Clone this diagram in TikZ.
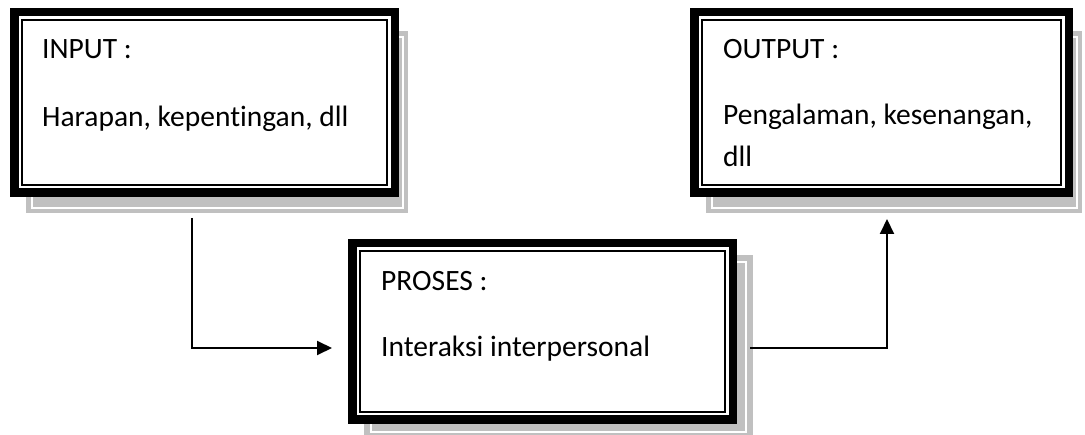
\documentclass[tikz,border=0pt]{standalone}
\usepackage{fontspec}
\setmainfont{Carlito}[Ligatures=NoCommon]
\usetikzlibrary{arrows.meta,backgrounds}

\definecolor{shade}{HTML}{C0C0C0}

\tikzset{
  % box with a heavy outer rule; the thin inner rule is added separately
  ipobox/.style={draw=black, fill=white, line width=8.5pt, inner sep=0pt},
  innerrule/.style={draw=black, line width=2.2pt},
  shadowfill/.style={fill=shade},
  shadowrule/.style={draw=white, line width=1.4pt},
  iplabel/.style={anchor=base west, inner sep=0pt, font=\fontsize{29.5}{34}\selectfont},
  link/.style={draw=black, line width=2pt, -{Triangle[length=15pt,width=14pt]}},
}

% thin rule inside a box, 12pt in from its outer edge
\newcommand{\innerframe}[1]{%
  \draw[innerrule] ([shift={(12,12)}]#1.north west) rectangle ([shift={(-12,-12)}]#1.south east);}

\begin{document}
\begin{tikzpicture}[x=1pt,y=-1pt]
\useasboundingbox (0,0) rectangle (1085,435);

% boxes
\node[ipobox, minimum width=380.5pt, minimum height=180.5pt] (inp)  at (204.5,102.5) {};
\node[ipobox, minimum width=374.5pt, minimum height=180.5pt] (outp) at (881.5,102.5) {};
\node[ipobox, minimum width=380.5pt, minimum height=176.5pt] (proc) at (542.5,331.5) {};
\innerframe{inp}
\innerframe{outp}
\innerframe{proc}

% drop shadows behind the boxes
\begin{scope}[on background layer]
  \clip (0,0) rectangle (1085,435);
  \fill[shadowfill] (26,31) rectangle (408,213);
  \draw[shadowrule] (32,37) rectangle (403,208);
  \fill[shadowfill] (706,31) rectangle (1082,213);
  \draw[shadowrule] (712,37) rectangle (1077,208);
  \fill[shadowfill] (364,255) rectangle (753,439);
  \draw[shadowrule] (371,262) rectangle (746,432);
\end{scope}

% texts
\node[iplabel] (inp-t1)  at (42,59)   {INPUT :};
\node[iplabel] (inp-t2)  at (42,127)  {Harapan, kepentingan, dll};
\node[iplabel] (outp-t1) at (723,59)  {OUTPUT :};
\node[iplabel] (outp-t2) at (723,125) {Pengalaman, kesenangan,};
\node[iplabel] (outp-t3) at (723,167) {dll};
\node[iplabel] (proc-t1) at (381,291) {PROSES :};
\node[iplabel] (proc-t2) at (381,357) {Interaksi interpersonal};

% connectors
\coordinate (inp-out)  at (192,218);
\coordinate (proc-in)  at (332,348);
\coordinate (proc-out) at (750,348);
\coordinate (outp-in)  at (887,219);
\draw[link] (inp-out) |- (proc-in);
\draw[link] (proc-out) -| (outp-in);
\end{tikzpicture}
\end{document}
